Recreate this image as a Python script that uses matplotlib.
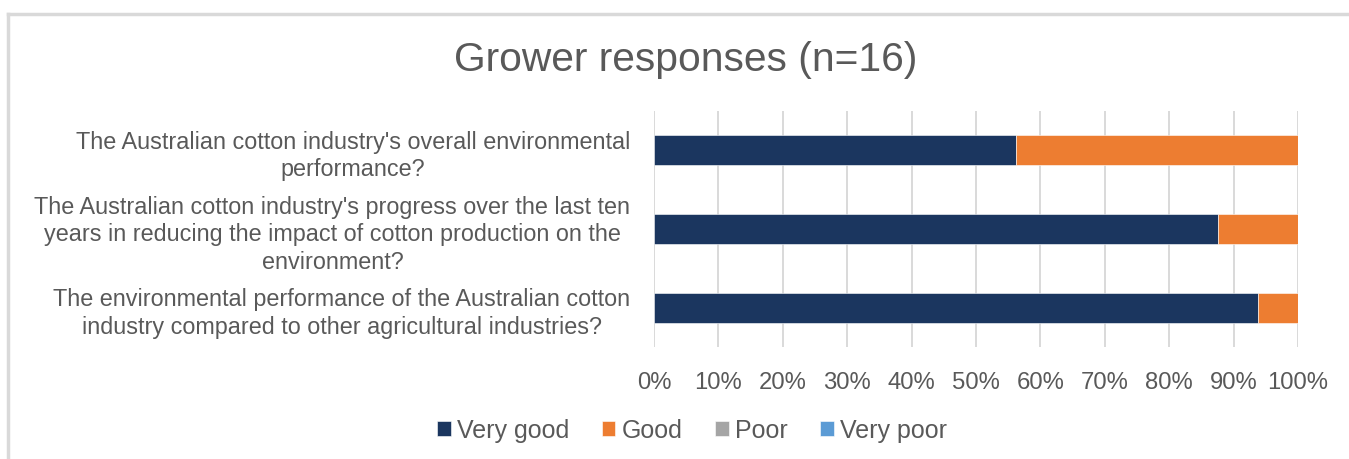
import matplotlib.pyplot as plt
from matplotlib.lines import Line2D

plt.rcParams['font.family'] = ['Liberation Sans', 'DejaVu Sans']

# ---- data (percent of 16 growers) ----
questions = [
    "The Australian cotton industry's overall environmental\nperformance?",
    "The Australian cotton industry's progress over the last ten\nyears in reducing the impact of cotton production on the\nenvironment?",
    "The environmental performance of the Australian cotton\nindustry compared to other agricultural industries?",
]
series_names = ["Very good", "Good", "Poor", "Very poor"]
very_good = [56.25, 87.5, 93.75]
good = [43.75, 12.5, 6.25]
poor = [0, 0, 0]
very_poor = [0, 0, 0]
colors = ["#1B365F", "#ED7D31", "#A5A5A5", "#5B9BD5"]

text_col = "#595959"

fig = plt.figure(figsize=(13.49, 4.6), dpi=100)
ax = fig.add_axes([654 / 1349, 1 - 348 / 460, 644 / 1349, 236 / 460])

ypos = list(range(len(questions)))
left = [0] * len(questions)
for name, vals, c in zip(series_names, [very_good, good, poor, very_poor], colors):
    ax.barh(ypos, vals, left=left, height=0.38, color=c, label=name,
            edgecolor="white", linewidth=0.4, zorder=3)
    left = [l + v for l, v in zip(left, vals)]

ax.set_ylim(len(questions) - 0.5, -0.5)
ax.set_xlim(0, 100)
ax.set_xticks(range(0, 101, 10))
ax.set_xticklabels([f"{t}%" for t in range(0, 101, 10)], fontsize=17.2, color=text_col)
ax.set_yticks(ypos)
ax.set_yticklabels(questions, fontsize=16.8, color=text_col, multialignment="center",
                   linespacing=1.25)
ax.tick_params(axis="x", length=0, pad=17)
ax.tick_params(axis="y", length=0, pad=17)
ax.grid(axis="x", color="#D9D9D9", linewidth=1.4, zorder=0)
for s in ax.spines.values():
    s.set_visible(False)

fig.text(686 / 1349, 1 - 60 / 460, "Grower responses (n=16)", fontsize=29.3,
         color=text_col, ha="center", va="center")

fig.legend(loc="center", bbox_to_anchor=(692 / 1349, 1 - 431 / 460), ncol=4,
           frameon=False, fontsize=18, handlelength=0.55, handleheight=0.55,
           handletextpad=0.25, columnspacing=1.3, labelcolor=text_col)

# outer chart frame
fig.add_artist(Line2D([8 / 1349, 8 / 1349], [0, 1 - 14.5 / 460], transform=fig.transFigure,
                      color="#D9D9D9", linewidth=2.5))
fig.add_artist(Line2D([8 / 1349, 1], [1 - 14.5 / 460, 1 - 14.5 / 460], transform=fig.transFigure,
                      color="#D9D9D9", linewidth=2.5))

fig.savefig("out.png", dpi=100)
